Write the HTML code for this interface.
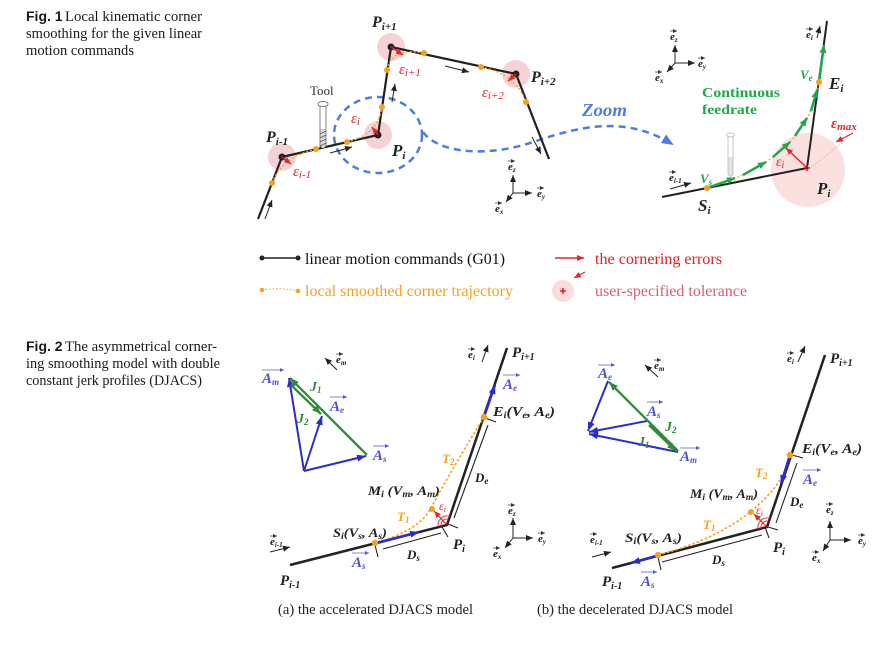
<!DOCTYPE html>
<html><head><meta charset="utf-8">
<style>
html,body{margin:0;padding:0;background:#fff;}
svg{display:block;}
.cap{font-family:"Liberation Serif",serif;font-size:14.5px;fill:#1a1a1a;}
.capb{font-family:"Liberation Sans",sans-serif;font-weight:bold;font-size:14px;fill:#1a1a1a;}
.m{font-family:"Liberation Serif",serif;font-style:italic;font-weight:bold;}
.it{font-family:"Liberation Serif",serif;font-style:italic;}
.sr{font-family:"Liberation Serif",serif;}
</style></head><body>
<svg width="884" height="645" viewBox="0 0 884 645" xmlns="http://www.w3.org/2000/svg">
<defs>
<marker id="ak" markerUnits="userSpaceOnUse" markerWidth="7" markerHeight="6" refX="7" refY="3" orient="auto"><path d="M0,0 L7,3 L0,6 z" fill="#222"/></marker>
<marker id="aks" markerUnits="userSpaceOnUse" markerWidth="4" markerHeight="4" refX="4" refY="2" orient="auto"><path d="M0,0 L4,2 L0,4 z" fill="#333"/></marker>
<marker id="abs" markerUnits="userSpaceOnUse" markerWidth="4" markerHeight="4" refX="4" refY="2" orient="auto"><path d="M0,0 L4,2 L0,4 z" fill="#5a5ad8"/></marker>
<marker id="ar" markerUnits="userSpaceOnUse" markerWidth="7" markerHeight="6" refX="7" refY="3" orient="auto"><path d="M0,0 L7,3 L0,6 z" fill="#e5252a"/></marker>
<marker id="ab" markerUnits="userSpaceOnUse" markerWidth="9" markerHeight="7" refX="9" refY="3.5" orient="auto"><path d="M0,0 L9,3.5 L0,7 z" fill="#2a2ccc"/></marker>
<marker id="ag" markerUnits="userSpaceOnUse" markerWidth="9" markerHeight="7" refX="9" refY="3.5" orient="auto"><path d="M0,0 L9,3.5 L0,7 z" fill="#2f8c3a"/></marker>
<marker id="ag1" markerUnits="userSpaceOnUse" markerWidth="8" markerHeight="7" refX="8" refY="3.5" orient="auto"><path d="M0,0 L8,3.5 L0,7 z" fill="#1fa84a"/></marker>
<marker id="abz" markerUnits="userSpaceOnUse" markerWidth="12" markerHeight="10" refX="10" refY="5" orient="auto"><path d="M0,0 L12,5 L0,10 z" fill="#4a7ee6"/></marker>
</defs>

<!-- ===== Captions ===== -->
<text x="26" y="21" class="capb">Fig. 1</text>
<text x="65" y="21" class="cap" textLength="137" lengthAdjust="spacingAndGlyphs">Local kinematic corner</text>
<text x="26" y="38" class="cap" textLength="176" lengthAdjust="spacingAndGlyphs">smoothing for the given linear</text>
<text x="26" y="55" class="cap" textLength="108" lengthAdjust="spacingAndGlyphs">motion commands</text>

<text x="26" y="351" class="capb">Fig. 2</text>
<text x="65" y="351" class="cap" textLength="152" lengthAdjust="spacingAndGlyphs">The asymmetrical corner-</text>
<text x="26" y="368" class="cap" textLength="194" lengthAdjust="spacingAndGlyphs">ing smoothing model with double</text>
<text x="26" y="385" class="cap" textLength="176" lengthAdjust="spacingAndGlyphs">constant jerk profiles (DJACS)</text>

<!-- ===== Fig 1 left ===== -->
<g fill="#f7d2d5">
<circle cx="282" cy="157" r="14"/>
<circle cx="378" cy="135" r="14"/>
<circle cx="391" cy="47" r="14"/>
<circle cx="516" cy="74" r="14"/>
</g>
<ellipse cx="378" cy="135" rx="44" ry="38" fill="none" stroke="#4a7ee6" stroke-width="2.5" stroke-dasharray="7 5"/>
<path d="M423,132 C440,155 490,156 530,143 S620,112 672,144" fill="none" stroke="#4a7ee6" stroke-width="2.5" stroke-dasharray="7 5" marker-end="url(#abz)"/>

<polyline points="258,219 282,157 378,135 391,47 516,74 549,159" fill="none" stroke="#222" stroke-width="2.2"/>
<path d="M272,183 Q282,157 316,149 M347,142 Q378,135 382,107 M387,70 Q391,47 424,53 M481,67 Q516,74 526,102" fill="none" stroke="#f5a623" stroke-width="1.3" stroke-dasharray="2 2"/>
<g fill="#222">
<circle cx="282" cy="157" r="3.5"/><circle cx="378" cy="135" r="3.5"/><circle cx="391" cy="47" r="3.5"/><circle cx="516" cy="74" r="3.5"/>
</g>
<g fill="#f5a01e">
<circle cx="272" cy="183" r="3"/><circle cx="316" cy="149" r="3"/><circle cx="347" cy="142" r="3"/><circle cx="382" cy="107" r="3"/>
<circle cx="387" cy="70" r="3"/><circle cx="424" cy="53" r="3"/><circle cx="481" cy="67" r="3"/><circle cx="526" cy="102" r="3"/>
</g>
<g stroke="#e5252a" stroke-width="1.5" marker-end="url(#ar)">
<line x1="282" y1="157" x2="291" y2="164"/>
<line x1="378" y1="135" x2="372" y2="127"/>
<line x1="391" y1="47" x2="403" y2="55"/>
<line x1="516" y1="74" x2="508" y2="81"/>
</g>
<g stroke="#222" stroke-width="1" marker-end="url(#ak)">
<line x1="265" y1="219" x2="272" y2="200"/>
<line x1="330" y1="153" x2="352" y2="147"/>
<line x1="392" y1="102" x2="395" y2="84"/>
<line x1="445" y1="66" x2="469" y2="72"/>
<line x1="532" y1="137" x2="541" y2="154"/>
</g>
<!-- tool -->
<g stroke="#777" stroke-width="0.9" fill="#fff">
<rect x="320" y="104" width="6" height="26"/>
<ellipse cx="323" cy="104" rx="5" ry="2.5"/>
<path d="M320,130 L320,146 L323,149 L326,146 L326,130" fill="#ddd"/>
<path d="M320,134 L326,131 M320,138 L326,135 M320,142 L326,139 M320,146 L326,143" stroke="#555"/>
</g>
<text x="310" y="95" class="sr" font-size="13" fill="#333">Tool</text>

<text x="266" y="142" class="m" font-size="16" fill="#222">P<tspan font-size="11" dy="3">i-1</tspan></text>
<text x="392" y="156" class="m" font-size="17" fill="#222">P<tspan font-size="11" dy="3">i</tspan></text>
<text x="372" y="27" class="m" font-size="16" fill="#222">P<tspan font-size="11" dy="3">i+1</tspan></text>
<text x="531" y="82" class="m" font-size="16" fill="#222">P<tspan font-size="11" dy="3">i+2</tspan></text>

<text x="293" y="176" class="it" font-size="15" fill="#e5252a">ε<tspan font-size="11" dy="2">i-1</tspan></text>
<text x="351" y="123" class="it" font-size="15" fill="#e5252a">ε<tspan font-size="11" dy="2">i</tspan></text>
<text x="399" y="74" class="it" font-size="15" fill="#e5252a">ε<tspan font-size="11" dy="2">i+1</tspan></text>
<text x="482" y="97" class="it" font-size="15" fill="#e5252a">ε<tspan font-size="11" dy="2">i+2</tspan></text>

<!-- frame fig1 left -->
<g stroke="#222" stroke-width="1" marker-end="url(#ak)">
<line x1="513" y1="193" x2="513" y2="175"/>
<line x1="513" y1="193" x2="532" y2="193"/>
<line x1="513" y1="193" x2="506" y2="202"/>
</g>
<g class="m" font-size="11" fill="#222">
<text x="508" y="170">e<tspan font-size="7" dy="2">z</tspan></text>
<text x="537" y="197">e<tspan font-size="7" dy="2">y</tspan></text>
<text x="495" y="212">e<tspan font-size="7" dy="2">x</tspan></text>
</g>
<g stroke="#333" stroke-width="0.7" marker-end="url(#aks)">
<path d="M508,161 h7"/><path d="M537,188 h7"/><path d="M495,203 h7"/>
</g>

<!-- ===== Fig 1 right ===== -->
<circle cx="808" cy="170" r="37" fill="#fbe0e0"/>
<line x1="808" y1="170" x2="843" y2="142" stroke="#e89aa0" stroke-width="0.8" stroke-dasharray="1.5 1.5"/>
<polyline points="662,197 807,168 827,21" fill="none" stroke="#222" stroke-width="2"/>
<path d="M707,188 Q807,159 819,82" fill="none" stroke="#f5a623" stroke-width="1.3" stroke-dasharray="2 2"/>
<g stroke="#1fa84a" stroke-width="2.5" fill="none" marker-end="url(#ag1)">
<line x1="707" y1="188" x2="735" y2="178"/>
<line x1="743" y1="175" x2="766" y2="162"/>
<line x1="773" y1="157" x2="790" y2="142"/>
<line x1="795" y1="136" x2="807" y2="118"/>
<line x1="811" y1="111" x2="817" y2="90"/>
<line x1="819" y1="82" x2="824" y2="45"/>
</g>
<circle cx="707" cy="188" r="3" fill="#f5a01e"/>
<circle cx="819" cy="82" r="3" fill="#f5a01e"/>
<line x1="807" y1="168" x2="786" y2="148" stroke="#e5252a" stroke-width="1.5" marker-end="url(#ar)"/>
<line x1="853" y1="133" x2="836" y2="142" stroke="#e5252a" stroke-width="1.2" marker-end="url(#ar)"/>
<path d="M804,168 h6 M807,165 v6" stroke="#c00" stroke-width="1.3"/>
<!-- ghost tool -->
<g stroke="#aaa" stroke-width="0.8" fill="#fff" opacity="0.8">
<rect x="728" y="136" width="5" height="22"/>
<ellipse cx="730.5" cy="135" rx="4" ry="2"/>
<path d="M728,158 L728,174 L730.5,177 L733,174 L733,158" fill="#ddd"/>
</g>
<text x="582" y="116" class="m" font-size="18" fill="#4a7ee6" textLength="45" lengthAdjust="spacingAndGlyphs">Zoom</text>
<text x="702" y="97" class="sr" font-weight="bold" font-size="14" fill="#1fa84a" textLength="78" lengthAdjust="spacingAndGlyphs">Continuous</text>
<text x="702" y="114" class="sr" font-weight="bold" font-size="14" fill="#1fa84a" textLength="55" lengthAdjust="spacingAndGlyphs">feedrate</text>
<text x="700" y="183" class="m" font-size="13" fill="#1fa84a">V<tspan font-size="9" dy="2">s</tspan></text>
<text x="800" y="79" class="m" font-size="13" fill="#1fa84a">V<tspan font-size="9" dy="2">e</tspan></text>
<text x="829" y="89" class="m" font-size="17" fill="#222">E<tspan font-size="11" dy="3">i</tspan></text>
<text x="698" y="211" class="m" font-size="17" fill="#222">S<tspan font-size="11" dy="3">i</tspan></text>
<text x="817" y="194" class="m" font-size="17" fill="#222">P<tspan font-size="11" dy="3">i</tspan></text>
<text x="831" y="128" class="it" font-weight="bold" font-size="15" fill="#e5252a">ε<tspan font-size="11" dy="2">max</tspan></text>
<text x="776" y="166" class="it" font-size="14" fill="#e5252a">ε<tspan font-size="10" dy="2">i</tspan></text>
<!-- e_i, e_i-1 -->
<text x="806" y="38" class="m" font-size="11" fill="#222">e<tspan font-size="7" dy="2">i</tspan></text>
<path d="M806,29 h7" stroke="#333" stroke-width="0.7" marker-end="url(#aks)"/>
<line x1="817" y1="38" x2="820" y2="26" stroke="#222" stroke-width="1" marker-end="url(#ak)"/>
<text x="669" y="181" class="m" font-size="11" fill="#222">e<tspan font-size="7" dy="2">i-1</tspan></text>
<path d="M669,172 h7" stroke="#333" stroke-width="0.7" marker-end="url(#aks)"/>
<line x1="670" y1="189" x2="691" y2="183" stroke="#222" stroke-width="1" marker-end="url(#ak)"/>
<!-- frame fig1 right -->
<g stroke="#222" stroke-width="1" marker-end="url(#ak)">
<line x1="675" y1="63" x2="675" y2="45"/>
<line x1="675" y1="63" x2="695" y2="63"/>
<line x1="675" y1="63" x2="667" y2="72"/>
</g>
<g class="m" font-size="11" fill="#222">
<text x="670" y="40">e<tspan font-size="7" dy="2">z</tspan></text>
<text x="698" y="67">e<tspan font-size="7" dy="2">y</tspan></text>
<text x="655" y="81">e<tspan font-size="7" dy="2">x</tspan></text>
</g>
<g stroke="#333" stroke-width="0.7" marker-end="url(#aks)">
<path d="M670,31 h7"/><path d="M698,58 h7"/><path d="M655,72 h7"/>
</g>

<!-- ===== Legend ===== -->
<line x1="262" y1="258" x2="298" y2="258" stroke="#222" stroke-width="1.5"/>
<circle cx="262" cy="258" r="2.5" fill="#222"/><circle cx="298" cy="258" r="2.5" fill="#222"/>
<text x="305" y="264" class="sr" font-size="16" fill="#111" textLength="200" lengthAdjust="spacingAndGlyphs">linear motion commands (G01)</text>
<path d="M262,290 Q280,287 298,291" fill="none" stroke="#f5a623" stroke-width="1" stroke-dasharray="1.5 2"/>
<circle cx="262" cy="290" r="2.3" fill="#f5a01e"/><circle cx="298" cy="291" r="2.3" fill="#f5a01e"/>
<text x="305" y="296" class="sr" font-size="16" fill="#f5a01e" textLength="208" lengthAdjust="spacingAndGlyphs">local smoothed corner trajectory</text>
<line x1="555" y1="258" x2="584" y2="258" stroke="#e5252a" stroke-width="1.5" marker-end="url(#ar)"/>
<text x="595" y="264" class="sr" font-size="16" fill="#e0201e" textLength="127" lengthAdjust="spacingAndGlyphs">the cornering errors</text>
<circle cx="563" cy="291" r="11" fill="#fbdcdc"/>
<path d="M560,291 h6 M563,288 v6" stroke="#d00" stroke-width="1.3"/>
<line x1="585" y1="272" x2="574" y2="278" stroke="#e5252a" stroke-width="1.2" marker-end="url(#ar)"/>
<text x="595" y="296" class="sr" font-size="16" fill="#d9606a" textLength="152" lengthAdjust="spacingAndGlyphs">user-specified tolerance</text>

<!-- ===== Fig 2 (a) ===== -->
<!-- vector diagram -->
<g stroke="#2a2ccc" stroke-width="2" marker-end="url(#ab)">
<line x1="304" y1="471" x2="289" y2="378"/>
<line x1="304" y1="471" x2="322" y2="416"/>
<line x1="304" y1="471" x2="366" y2="456"/>
</g>
<g stroke="#2f8c3a" stroke-width="2.3" marker-end="url(#ag)">
<line x1="367" y1="455" x2="290" y2="378"/>
<line x1="291" y1="385" x2="321" y2="414"/>
</g>
<text x="262" y="383" class="m" font-size="15" fill="#5050d8">A<tspan font-size="9" dy="2">m</tspan></text>
<path d="M262,370 h22" stroke="#5a5ad8" stroke-width="0.8" marker-end="url(#abs)"/>
<text x="330" y="411" class="m" font-size="15" fill="#5050d8">A<tspan font-size="9" dy="2">e</tspan></text>
<path d="M330,397 h17" stroke="#5a5ad8" stroke-width="0.8" marker-end="url(#abs)"/>
<text x="373" y="460" class="m" font-size="15" fill="#5050d8">A<tspan font-size="9" dy="2">s</tspan></text>
<path d="M373,446 h16" stroke="#5a5ad8" stroke-width="0.8" marker-end="url(#abs)"/>
<text x="310" y="391" class="m" font-size="14" fill="#2f8c3a">J<tspan font-size="9" dy="2">1</tspan></text>
<text x="297" y="423" class="m" font-size="14" fill="#2f8c3a">J<tspan font-size="9" dy="2">2</tspan></text>
<text x="336" y="363" class="m" font-size="11" fill="#222">e<tspan font-size="7" dy="2">m</tspan></text>
<path d="M336,354 h7" stroke="#333" stroke-width="0.7" marker-end="url(#aks)"/>
<line x1="337" y1="370" x2="325" y2="358" stroke="#222" stroke-width="1" marker-end="url(#ak)"/>

<!-- main geometry -->
<polyline points="290,565 447,525 507,348" fill="none" stroke="#222" stroke-width="2.5"/>
<path d="M375,543 Q420,530 431,508 Q442,486 484,417" fill="none" stroke="#f5a01e" stroke-width="1.6" stroke-dasharray="2.5 2"/>
<line x1="377" y1="543" x2="419" y2="532" stroke="#2a2ccc" stroke-width="2.5" marker-end="url(#ab)"/>
<line x1="484" y1="417" x2="495" y2="385" stroke="#2a2ccc" stroke-width="2.5" marker-end="url(#ab)"/>
<g stroke="#222" stroke-width="1.1" fill="none">
<line x1="375" y1="545" x2="378" y2="557"/>
<line x1="442" y1="527" x2="448" y2="537"/>
<line x1="448" y1="524" x2="458" y2="528"/>
<line x1="485" y1="418" x2="496" y2="422"/>
<line x1="383" y1="549" x2="441" y2="533"/>
<line x1="454" y1="518" x2="488" y2="425"/>
</g>
<g stroke="#e5252a" stroke-width="0.9" fill="none">
<path d="M441.2,526.5 A6,6 0 0 1 448.9,519.3"/>
<path d="M438.3,527.2 A9,9 0 0 1 449.9,516.5"/>
</g>
<line x1="447" y1="525" x2="434" y2="511" stroke="#e5252a" stroke-width="1.2" marker-end="url(#ar)"/>
<circle cx="375" cy="543" r="3.2" fill="#f5a01e"/>
<circle cx="484" cy="417" r="3.2" fill="#f5a01e"/>
<circle cx="432" cy="509" r="3" fill="#f5a01e"/>

<text x="468" y="358" class="m" font-size="11" fill="#222">e<tspan font-size="7" dy="2">i</tspan></text>
<path d="M468,349 h7" stroke="#333" stroke-width="0.7" marker-end="url(#aks)"/>
<line x1="482" y1="362" x2="488" y2="345" stroke="#222" stroke-width="1" marker-end="url(#ak)"/>
<text x="512" y="357" class="m" font-size="15" fill="#222">P<tspan font-size="10" dy="3">i+1</tspan></text>
<text x="503" y="389" class="m" font-size="15" fill="#5050d8">A<tspan font-size="9" dy="2">e</tspan></text>
<path d="M503,375 h17" stroke="#5a5ad8" stroke-width="0.8" marker-end="url(#abs)"/>
<text x="493" y="416" class="m" font-size="14" fill="#222" textLength="62" lengthAdjust="spacingAndGlyphs">E<tspan font-size="9" dy="2">i</tspan><tspan dy="-2">(V</tspan><tspan font-size="9" dy="2">e</tspan><tspan dy="-2">, A</tspan><tspan font-size="9" dy="2">e</tspan><tspan dy="-2">)</tspan></text>
<text x="442" y="463" class="m" font-size="13" fill="#f5a01e">T<tspan font-size="9" dy="2">2</tspan></text>
<text x="475" y="482" class="m" font-size="13" fill="#222">D<tspan font-size="9" dy="2">e</tspan></text>
<text x="368" y="495" class="m" font-size="13" fill="#222" textLength="72" lengthAdjust="spacingAndGlyphs">M<tspan font-size="9" dy="2">i</tspan><tspan dy="-2"> (V</tspan><tspan font-size="9" dy="2">m</tspan><tspan dy="-2">, A</tspan><tspan font-size="9" dy="2">m</tspan><tspan dy="-2">)</tspan></text>
<text x="439" y="510" class="it" font-size="12" fill="#e5252a">ε<tspan font-size="8" dy="2">i</tspan></text>
<text x="397" y="521" class="m" font-size="13" fill="#f5a01e">T<tspan font-size="9" dy="2">1</tspan></text>
<text x="333" y="537" class="m" font-size="13" fill="#222" textLength="54" lengthAdjust="spacingAndGlyphs">S<tspan font-size="9" dy="2">i</tspan><tspan dy="-2">(V</tspan><tspan font-size="9" dy="2">s</tspan><tspan dy="-2">, A</tspan><tspan font-size="9" dy="2">s</tspan><tspan dy="-2">)</tspan></text>
<text x="270" y="545" class="m" font-size="11" fill="#222">e<tspan font-size="7" dy="2">i-1</tspan></text>
<path d="M270,536 h7" stroke="#333" stroke-width="0.7" marker-end="url(#aks)"/>
<line x1="270" y1="552" x2="290" y2="547" stroke="#222" stroke-width="1" marker-end="url(#ak)"/>
<text x="453" y="549" class="m" font-size="15" fill="#222">P<tspan font-size="10" dy="3">i</tspan></text>
<text x="407" y="559" class="m" font-size="13" fill="#222">D<tspan font-size="9" dy="2">s</tspan></text>
<text x="352" y="567" class="m" font-size="15" fill="#5050d8">A<tspan font-size="9" dy="2">s</tspan></text>
<path d="M352,553 h17" stroke="#5a5ad8" stroke-width="0.8" marker-end="url(#abs)"/>
<text x="280" y="585" class="m" font-size="15" fill="#222">P<tspan font-size="10" dy="3">i-1</tspan></text>
<!-- frame -->
<g stroke="#222" stroke-width="1" marker-end="url(#ak)">
<line x1="513" y1="538" x2="513" y2="518"/>
<line x1="513" y1="538" x2="533" y2="538"/>
<line x1="513" y1="538" x2="505" y2="548"/>
</g>
<g class="m" font-size="11" fill="#222">
<text x="508" y="514">e<tspan font-size="7" dy="2">z</tspan></text>
<text x="538" y="542">e<tspan font-size="7" dy="2">y</tspan></text>
<text x="493" y="557">e<tspan font-size="7" dy="2">x</tspan></text>
</g>
<g stroke="#333" stroke-width="0.7" marker-end="url(#aks)">
<path d="M508,505 h7"/><path d="M538,533 h7"/><path d="M493,548 h7"/>
</g>

<!-- ===== Fig 2 (b) ===== -->
<g stroke="#2a2ccc" stroke-width="2" marker-end="url(#ab)">
<line x1="608" y1="381" x2="588" y2="431"/>
<line x1="647" y1="421" x2="589" y2="432"/>
<line x1="678" y1="452" x2="589" y2="434"/>
</g>
<g stroke="#2f8c3a" stroke-width="2.3" marker-end="url(#ag)">
<line x1="678" y1="451" x2="609" y2="382"/>
<line x1="649" y1="425" x2="676" y2="451"/>
</g>
<text x="598" y="378" class="m" font-size="15" fill="#5050d8">A<tspan font-size="9" dy="2">e</tspan></text>
<path d="M598,365 h17" stroke="#5a5ad8" stroke-width="0.8" marker-end="url(#abs)"/>
<text x="647" y="416" class="m" font-size="15" fill="#5050d8">A<tspan font-size="9" dy="2">s</tspan></text>
<path d="M647,402 h16" stroke="#5a5ad8" stroke-width="0.8" marker-end="url(#abs)"/>
<text x="680" y="461" class="m" font-size="15" fill="#5050d8">A<tspan font-size="9" dy="2">m</tspan></text>
<path d="M680,448 h20" stroke="#5a5ad8" stroke-width="0.8" marker-end="url(#abs)"/>
<text x="665" y="431" class="m" font-size="14" fill="#2f8c3a">J<tspan font-size="9" dy="2">2</tspan></text>
<text x="638" y="446" class="m" font-size="14" fill="#2f8c3a">J<tspan font-size="9" dy="2">1</tspan></text>
<text x="654" y="369" class="m" font-size="11" fill="#222">e<tspan font-size="7" dy="2">m</tspan></text>
<path d="M654,360 h7" stroke="#333" stroke-width="0.7" marker-end="url(#aks)"/>
<line x1="658" y1="377" x2="645" y2="365" stroke="#222" stroke-width="1" marker-end="url(#ak)"/>

<polyline points="612,568 767,527 825,355" fill="none" stroke="#222" stroke-width="2.5"/>
<path d="M658,555 Q715,540 750,512 Q785,484 790,455" fill="none" stroke="#f5a01e" stroke-width="1.6" stroke-dasharray="2.5 2"/>
<line x1="656" y1="556" x2="631" y2="563" stroke="#2a2ccc" stroke-width="2.5" marker-end="url(#ab)"/>
<line x1="789" y1="458" x2="781" y2="484" stroke="#2a2ccc" stroke-width="2.5" marker-end="url(#ab)"/>
<g stroke="#222" stroke-width="1.1" fill="none">
<line x1="658" y1="557" x2="661" y2="570"/>
<line x1="765" y1="527" x2="769" y2="538"/>
<line x1="768" y1="527" x2="778" y2="530"/>
<line x1="792" y1="455" x2="803" y2="458"/>
<line x1="662" y1="562" x2="762" y2="535"/>
<line x1="776" y1="523" x2="797" y2="463"/>
</g>
<g stroke="#e5252a" stroke-width="0.9" fill="none">
<path d="M761.2,528.5 A6,6 0 0 1 768.9,521.3"/>
<path d="M758.3,529.3 A9,9 0 0 1 769.9,518.5"/>
</g>
<line x1="767" y1="527" x2="754" y2="514" stroke="#e5252a" stroke-width="1.2" marker-end="url(#ar)"/>
<circle cx="658" cy="555" r="3.2" fill="#f5a01e"/>
<circle cx="790" cy="455" r="3.2" fill="#f5a01e"/>
<circle cx="751" cy="512" r="3" fill="#f5a01e"/>

<text x="787" y="362" class="m" font-size="11" fill="#222">e<tspan font-size="7" dy="2">i</tspan></text>
<path d="M787,353 h7" stroke="#333" stroke-width="0.7" marker-end="url(#aks)"/>
<line x1="798" y1="362" x2="805" y2="346" stroke="#222" stroke-width="1" marker-end="url(#ak)"/>
<text x="830" y="363" class="m" font-size="15" fill="#222">P<tspan font-size="10" dy="3">i+1</tspan></text>
<text x="802" y="453" class="m" font-size="14" fill="#222" textLength="60" lengthAdjust="spacingAndGlyphs">E<tspan font-size="9" dy="2">i</tspan><tspan dy="-2">(V</tspan><tspan font-size="9" dy="2">e</tspan><tspan dy="-2">, A</tspan><tspan font-size="9" dy="2">e</tspan><tspan dy="-2">)</tspan></text>
<text x="803" y="484" class="m" font-size="15" fill="#5050d8">A<tspan font-size="9" dy="2">e</tspan></text>
<path d="M803,470 h18" stroke="#5a5ad8" stroke-width="0.8" marker-end="url(#abs)"/>
<text x="755" y="477" class="m" font-size="13" fill="#f5a01e">T<tspan font-size="9" dy="2">2</tspan></text>
<text x="690" y="498" class="m" font-size="13" fill="#222" textLength="68" lengthAdjust="spacingAndGlyphs">M<tspan font-size="9" dy="2">i</tspan><tspan dy="-2"> (V</tspan><tspan font-size="9" dy="2">m</tspan><tspan dy="-2">, A</tspan><tspan font-size="9" dy="2">m</tspan><tspan dy="-2">)</tspan></text>
<text x="790" y="506" class="m" font-size="13" fill="#222">D<tspan font-size="9" dy="2">e</tspan></text>
<text x="756" y="514" class="it" font-size="12" fill="#e5252a">ε<tspan font-size="8" dy="2">i</tspan></text>
<text x="703" y="529" class="m" font-size="13" fill="#f5a01e">T<tspan font-size="9" dy="2">1</tspan></text>
<text x="625" y="542" class="m" font-size="13" fill="#222" textLength="57" lengthAdjust="spacingAndGlyphs">S<tspan font-size="9" dy="2">i</tspan><tspan dy="-2">(V</tspan><tspan font-size="9" dy="2">s</tspan><tspan dy="-2">, A</tspan><tspan font-size="9" dy="2">s</tspan><tspan dy="-2">)</tspan></text>
<text x="590" y="543" class="m" font-size="11" fill="#222">e<tspan font-size="7" dy="2">i-1</tspan></text>
<path d="M590,534 h7" stroke="#333" stroke-width="0.7" marker-end="url(#aks)"/>
<line x1="592" y1="557" x2="611" y2="552" stroke="#222" stroke-width="1" marker-end="url(#ak)"/>
<text x="773" y="552" class="m" font-size="15" fill="#222">P<tspan font-size="10" dy="3">i</tspan></text>
<text x="712" y="564" class="m" font-size="13" fill="#222">D<tspan font-size="9" dy="2">s</tspan></text>
<text x="602" y="586" class="m" font-size="15" fill="#222">P<tspan font-size="10" dy="3">i-1</tspan></text>
<text x="641" y="586" class="m" font-size="15" fill="#5050d8">A<tspan font-size="9" dy="2">s</tspan></text>
<path d="M641,572 h16" stroke="#5a5ad8" stroke-width="0.8" marker-end="url(#abs)"/>
<g stroke="#222" stroke-width="1" marker-end="url(#ak)">
<line x1="830" y1="540" x2="830" y2="521"/>
<line x1="830" y1="540" x2="851" y2="540"/>
<line x1="830" y1="540" x2="823" y2="551"/>
</g>
<g class="m" font-size="11" fill="#222">
<text x="826" y="513">e<tspan font-size="7" dy="2">z</tspan></text>
<text x="858" y="544">e<tspan font-size="7" dy="2">y</tspan></text>
<text x="812" y="561">e<tspan font-size="7" dy="2">x</tspan></text>
</g>
<g stroke="#333" stroke-width="0.7" marker-end="url(#aks)">
<path d="M826,504 h7"/><path d="M858,535 h7"/><path d="M812,552 h7"/>
</g>

<!-- sub captions -->
<text x="278" y="614" class="sr" font-size="14.5" fill="#222" textLength="195" lengthAdjust="spacingAndGlyphs">(a) the accelerated DJACS model</text>
<text x="537" y="614" class="sr" font-size="14.5" fill="#222" textLength="196" lengthAdjust="spacingAndGlyphs">(b) the decelerated DJACS model</text>
</svg>
</body></html>
